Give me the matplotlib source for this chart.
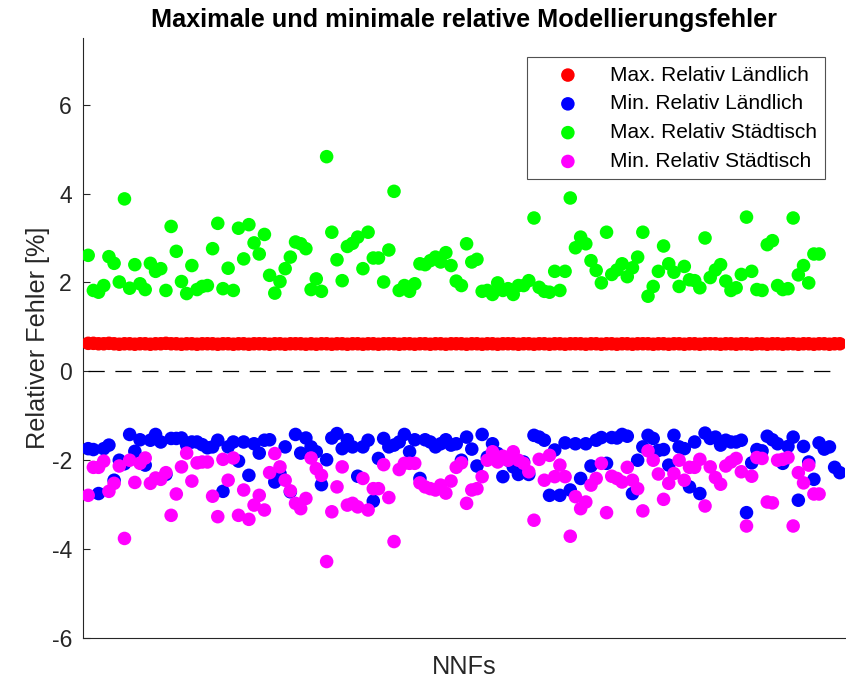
import matplotlib
matplotlib.use("Agg")
import matplotlib.pyplot as plt
import numpy as np

plt.rcParams['font.family'] = ['Liberation Sans', 'DejaVu Sans']

title = "Maximale und minimale relative Modellierungsfehler"
xlabel = "NNFs"
ylabel = "Relativer Fehler [%]"
labels = ["Max. Relativ Ländlich", "Min. Relativ Ländlich",
          "Max. Relativ Städtisch", "Min. Relativ Städtisch"]
yticks = [-6, -4, -2, 0, 2, 4, 6]

max_laendlich = [
    0.63, 0.63, 0.62, 0.62, 0.63, 0.62, 0.61, 0.62, 0.62, 0.61,
    0.62, 0.62, 0.61, 0.62, 0.62, 0.63, 0.62, 0.62, 0.61, 0.62,
    0.62, 0.61, 0.62, 0.62, 0.62, 0.61, 0.62, 0.62, 0.61, 0.62,
    0.62, 0.61, 0.62, 0.62, 0.62, 0.61, 0.62, 0.62, 0.61, 0.62,
    0.62, 0.62, 0.61, 0.62, 0.61, 0.62, 0.62, 0.61, 0.62, 0.62,
    0.61, 0.62, 0.62, 0.61, 0.62, 0.62, 0.61, 0.62, 0.62, 0.62,
    0.61, 0.62, 0.62, 0.61, 0.62, 0.62, 0.61, 0.62, 0.62, 0.61,
    0.62, 0.62, 0.62, 0.61, 0.62, 0.62, 0.61, 0.62, 0.62, 0.61,
    0.62, 0.62, 0.62, 0.61, 0.62, 0.62, 0.61, 0.62, 0.62, 0.61,
    0.62, 0.62, 0.61, 0.62, 0.62, 0.62, 0.61, 0.62, 0.62, 0.61,
    0.62, 0.62, 0.61, 0.62, 0.62, 0.61, 0.62, 0.62, 0.62, 0.61,
    0.62, 0.62, 0.61, 0.62, 0.62, 0.61, 0.62, 0.62, 0.61, 0.62,
    0.62, 0.62, 0.61, 0.62, 0.62, 0.61, 0.62, 0.62, 0.61, 0.62,
    0.62, 0.61, 0.62, 0.62, 0.61, 0.62, 0.62, 0.61, 0.62, 0.62,
    0.61, 0.62, 0.62, 0.61, 0.62, 0.62,
]

min_laendlich = [
    -1.74, -1.76, -2.75, -1.74, -1.66, -2.45, -2.00, -2.08, -1.42, -1.80,
    -1.54, -2.11, -1.55, -1.42, -1.59, -2.32, -1.51, -1.51, -1.50, -1.66,
    -1.59, -1.59, -1.65, -1.72, -1.70, -1.55, -2.70, -1.70, -1.59, -2.02,
    -1.59, -2.34, -1.63, -1.84, -1.55, -1.54, -2.49, -2.30, -1.70, -2.71,
    -1.42, -1.84, -1.50, -1.70, -1.81, -2.55, -1.99, -1.50, -1.40,
    -1.74, -1.54, -1.70, -2.36, -1.70, -1.55, -2.92, -1.96, -1.51, -1.70,
    -1.66, -1.59, -1.42, -1.81, -1.54, -2.41, -1.54, -1.59, -1.70, -1.63,
    -1.54, -1.66, -1.63, -2.00, -1.48, -1.75, -2.13, -1.42, -1.93, -1.63,
    -1.85, -2.37, -2.00, -2.15, -2.32, -2.04, -2.32, -1.44, -1.48, -1.55,
    -2.79, -1.77, -2.79, -1.61, -2.67, -1.63, -2.41, -1.63, -2.13,
    -1.55, -1.49, -2.07, -1.49, -1.50, -1.42, -1.46, -2.75, -2.00, -1.70,
    -1.44, -1.51, -1.78, -1.76, -2.11, -1.44, -1.70, -1.74, -2.60, -1.59,
    -2.75, -1.39, -1.51, -1.48, -1.66, -1.55, -1.59, -1.59, -1.55, -3.18,
    -2.06, -1.76, -1.79, -1.46, -1.54, -1.63, -2.07, -1.69, -1.48, -2.90,
    -1.69, -2.04, -2.43, -1.61, -1.75, -1.70, -2.16, -2.28,
]

max_staedtisch = [
    2.61, 1.82, 1.78, 1.93, 2.58, 2.43, 2.01, 3.88, 1.87, 2.40,
    1.97, 1.84, 2.43, 2.25, 2.31, 1.82, 3.26, 2.70, 2.02, 1.75,
    2.38, 1.84, 1.91, 1.93, 2.76, 3.33, 1.86, 2.32, 1.82, 3.22,
    2.53, 3.30, 2.89, 2.64, 3.08, 2.16, 1.76, 2.02, 2.31, 2.57,
    2.91, 2.87, 2.76, 1.84, 2.08, 1.80, 4.83, 3.13, 2.51,
    2.04, 2.81, 2.88, 3.02, 2.31, 3.13, 2.55, 2.55, 2.01, 2.73,
    4.05, 1.82, 1.93, 1.80, 1.97, 2.42, 2.40, 2.49, 2.57, 2.46,
    2.67, 2.38, 2.03, 1.93, 2.87, 2.46, 2.52, 1.80, 1.82, 1.73,
    1.99, 1.82, 1.86, 1.73, 1.93, 1.93, 2.04, 3.45, 1.89, 1.80,
    1.78, 2.25, 1.82, 2.25, 3.90, 2.78, 3.02, 2.87, 2.49,
    2.27, 1.99, 3.13, 2.18, 2.28, 2.42, 2.13, 2.33, 2.57, 3.13,
    1.69, 1.91, 2.25, 2.82, 2.42, 2.23, 1.91, 2.36, 2.06, 2.04,
    1.88, 3.00, 2.11, 2.28, 2.40, 2.03, 1.82, 1.88, 2.18, 3.47,
    2.25, 1.84, 1.82, 2.85, 2.94, 1.93, 1.84, 1.86, 3.45, 2.17,
    2.38, 1.99, 2.64, 2.64,
]

min_staedtisch = [
    -2.79, -2.16, -2.16, -2.02, -2.70, -2.52, -2.13, -3.76, -2.00, -2.50,
    -2.07, -1.95, -2.52, -2.40, -2.43, -2.28, -3.24, -2.76, -2.15, -1.84,
    -2.47, -2.06, -2.04, -2.04, -2.81, -3.27, -1.98, -2.45, -1.95, -3.24,
    -2.67, -3.33, -3.01, -2.79, -3.12, -2.28, -1.85, -2.15, -2.45, -2.69,
    -2.97, -3.09, -2.86, -1.95, -2.19, -2.34, -4.28, -3.16, -2.60,
    -2.15, -3.01, -2.97, -3.05, -2.41, -3.12, -2.64, -2.64, -2.10, -2.84,
    -3.83, -2.21, -2.07, -2.07, -2.07, -2.51, -2.60, -2.64, -2.67, -2.56,
    -2.74, -2.47, -2.16, -2.06, -2.97, -2.67, -2.64, -2.37, -2.00, -1.81,
    -2.04, -1.91, -2.00, -1.81, -2.00, -2.07, -2.26, -3.35, -1.98, -2.45,
    -1.89, -2.37, -2.11, -2.37, -3.71, -2.82, -3.09, -2.94, -2.56,
    -2.41, -2.07, -3.18, -2.36, -2.41, -2.49, -2.16, -2.45, -2.64, -3.14,
    -1.79, -2.00, -2.31, -2.88, -2.52, -2.30, -2.00, -2.45, -2.16, -2.16,
    -1.98, -3.03, -2.15, -2.39, -2.54, -2.13, -2.04, -1.96, -2.26, -3.48,
    -2.36, -1.94, -1.96, -2.94, -2.96, -2.00, -1.98, -1.94, -3.48, -2.28,
    -2.51, -2.11, -2.76, -2.76,
]

series = [max_laendlich, min_laendlich, max_staedtisch, min_staedtisch]
colors = ["#ff0000", "#0000ff", "#00ff00", "#ff00ff"]

fig = plt.figure(figsize=(8.46, 6.81), dpi=100)
ax = fig.add_axes([83/846, 43/681, 762/846, 600/681])

ms = 95
for vals, col, lab in zip(series, colors, labels):
    x = np.arange(1, len(vals) + 1)
    ax.scatter(x, vals, s=ms, c=col, edgecolors='none', label=lab, zorder=3)

n = len(min_laendlich)
ax.plot([1, n], [0, 0], color='black', lw=0.9, linestyle=(0, (13, 8.5)), zorder=2)

ax.set_xlim(0, 147)
ax.set_ylim(-6, 7.5)
ax.set_xticks([])
ax.set_yticks(yticks)
ax.set_yticklabels([str(t) for t in yticks])
ax.tick_params(axis='y', direction='in', length=5, width=0.8, colors='#262626',
               labelsize=16.5, pad=8)
for s in ['top', 'right']:
    ax.spines[s].set_visible(False)
for s in ['left', 'bottom']:
    ax.spines[s].set_color('#262626')
    ax.spines[s].set_linewidth(0.8)

ax.set_title(title, fontsize=18.2, fontweight='bold', pad=8, color='black')
ax.set_xlabel(xlabel, fontsize=18.2, color='#262626', labelpad=12)
ax.set_ylabel(ylabel, fontsize=18.2, color='#262626', labelpad=1)

leg = ax.legend(loc='upper right', bbox_to_anchor=(0.974, 0.968), borderaxespad=0,
                fontsize=15, frameon=True, fancybox=False, handletextpad=0.44,
                handlelength=3.15, labelspacing=0.47, borderpad=0.4, markerscale=1.0)
leg.get_frame().set_edgecolor('#262626')
leg.get_frame().set_linewidth(0.8)
for t in leg.get_texts():
    t.set_color('black')

fig.savefig("out.png", dpi=100)
